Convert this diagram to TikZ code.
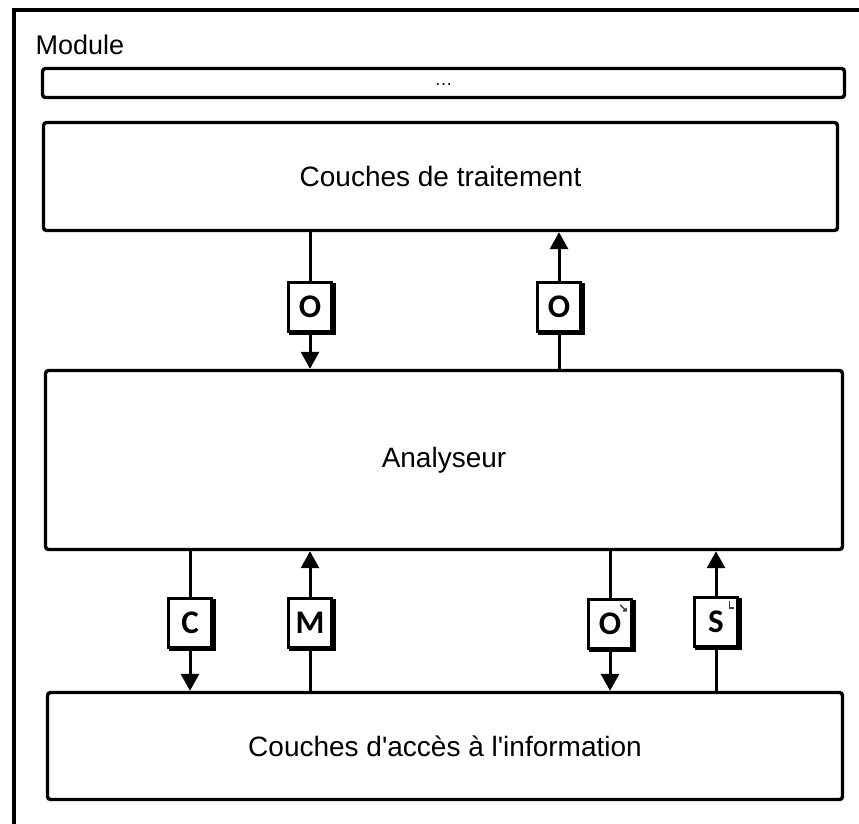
\documentclass[tikz,border=0pt]{standalone}
\usepackage{fontspec}
\setmainfont{Liberation Sans}
\newfontfamily\tagfont{Carlito}
\usetikzlibrary{arrows.meta}
\begin{document}
\begin{tikzpicture}[x=1pt,y=-1pt,
  layer/.style={draw, line width=3.4pt, rounded corners=3pt, inner sep=0pt,
    font=\fontsize{28}{33}\selectfont},
  tag/.style={draw, line width=3.4pt, fill=white, minimum width=43pt,
    minimum height=49pt, inner sep=0pt,
    font=\tagfont\bfseries\fontsize{33}{36}\selectfont,
    preaction={draw, line width=3.4pt, transform canvas={xshift=2.6pt,yshift=-2pt}}},
  link/.style={line width=3pt},
  flow/.style={link, -{Triangle[length=17pt,width=18pt]}},
  tick/.style={line width=1.4pt, black!75}]
\useasboundingbox (0,0) rectangle (859,823);
\begin{scope}
\clip (0,0) rectangle (859,823);
% module frame, running past the page edge on the right and at the bottom
\draw[line width=3.6pt] (14,10) rectangle (868,834);
\node[anchor=west, font=\fontsize{27}{32}\selectfont] (module) at (32,45) {Module};

% layers
\node[layer, minimum width=802pt, minimum height=29pt] (more) at (443.5,83)
  {\raisebox{-4pt}{\fontsize{18}{20}\selectfont\ldots}};
\node[layer, minimum width=794pt, minimum height=108pt] (trait) at (440.5,176.5)
  {Couches de traitement};
\node[layer, minimum width=797pt, minimum height=179pt] (ana) at (444,460)
  {Analyseur};
\node[layer, minimum width=795pt, minimum height=107pt] (acces) at (445,746)
  {Couches d\textquotesingle acc\`es \`a l\textquotesingle information};

% exchanges between the processing layers and the parser
\node[tag] (o1) at (310,307) {O};
\node[tag] (o2) at (559,307) {O};
\draw[link] (o1.north |- trait.south) -- (o1.north);
\draw[flow] (o1.south) -- (o1.south |- ana.north);
\draw[link] (o2.south |- ana.north) -- (o2.south);
\draw[flow] (o2.north) -- (o2.north |- trait.south);

% exchanges between the parser and the information access layers
\node[tag] (c) at (190,623) {C};
\node[tag] (m) at (310,623) {M};
\node[tag] (o3) at (610,624) {O};
\node[tag] (s) at (716,622) {S};
\draw[link] (c.north |- ana.south) -- (c.north);
\draw[flow] (c.south) -- (c.south |- acces.north);
\draw[link] (m.south |- acces.north) -- (m.south);
\draw[flow] (m.north) -- (m.north |- ana.south);
\draw[link] (o3.north |- ana.south) -- (o3.north);
\draw[flow] (o3.south) -- (o3.south |- acces.north);
\draw[link] (s.south |- acces.north) -- (s.south);
\draw[flow] (s.north) -- (s.north |- ana.south);

% small corner marks on two of the tags
\draw[tick] ([shift={(-13,7)}]o3.north east) -- ++(6,6) ++(-3,0) -- ++(3,0) -- ++(0,-3);
\draw[tick] ([shift={(-10,5)}]s.north east) -- ++(0,7) -- ++(5,0);
\end{scope}
\end{tikzpicture}
\end{document}
